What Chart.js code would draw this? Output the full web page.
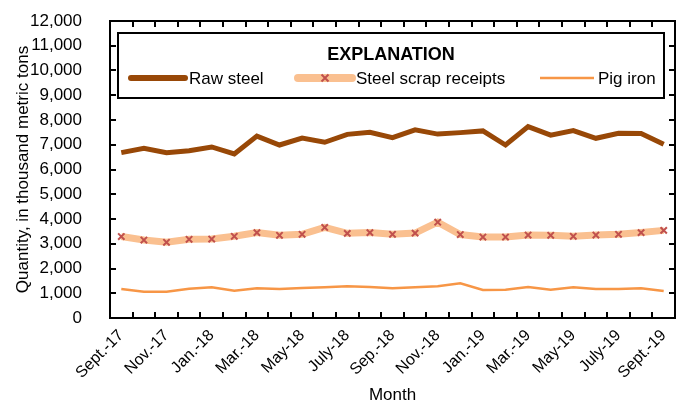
<!DOCTYPE html>
<html>
<head>
<meta charset="utf-8">
<script src="https://cdn.jsdelivr.net/npm/chart.js@4"></script>
<style>
  html, body { margin: 0; padding: 0; background: #fff; }
  #wrap { width: 676px; height: 406px; }
</style>
</head>
<body>
<div id="wrap"><canvas id="steel-chart" width="676" height="406"></canvas></div>
<script>
// months
const months = [
  'Sept.-17', 'Oct.-17', 'Nov.-17', 'Dec.-17', 'Jan.-18', 'Feb.-18', 'Mar.-18',
  'Apr.-18', 'May-18', 'June-18', 'July-18', 'Aug.-18', 'Sep.-18', 'Oct.-18',
  'Nov.-18', 'Dec.-18', 'Jan.-19', 'Feb.-19', 'Mar.-19', 'Apr.-19', 'May-19',
  'June-19', 'July-19', 'Aug.-19', 'Sept.-19',
];

// thousand metric tons
const rawSteel = [
  6680, 6860, 6680, 6760, 6910, 6630, 7350, 6990, 7270, 7100, 7420, 7500, 7290,
  7600, 7430, 7490, 7560, 6990, 7730, 7390, 7570, 7260, 7460, 7450, 7020,
];
const scrapReceipts = [
  3290, 3150, 3060, 3180, 3190, 3300, 3450, 3340, 3380, 3660, 3420, 3450, 3380,
  3430, 3870, 3370, 3270, 3270, 3350, 3340, 3300, 3350, 3380, 3450, 3540,
];
const pigIron = [
  1170, 1060, 1060, 1180, 1240, 1100, 1200, 1170, 1210, 1240, 1280, 1250, 1200,
  1240, 1280, 1400, 1130, 1140, 1250, 1140, 1240, 1170, 1170, 1200, 1090,
];

const yMin = 0;
const yMax = 12000;
const yStep = 1000;

const FONT = '"Liberation Sans", Arial, sans-serif';

// black box round the plot, with inward ticks on all four sides
const framePlugin = {
  id: 'frame',
  afterDatasetsDraw(chart) {
    const { ctx, chartArea: a, scales } = chart;
    const x = scales.x;
    const y = scales.y;
    const half = (x.getPixelForTick(1) - x.getPixelForTick(0)) / 2;
    const tl = 6;
    ctx.save();
    ctx.strokeStyle = '#000';
    ctx.lineWidth = 2;
    ctx.strokeRect(a.left, a.top, a.right - a.left, a.bottom - a.top);
    ctx.beginPath();
    for (let i = 1; i < months.length; i++) {
      const px = Math.round(x.getPixelForTick(i) - half);
      ctx.moveTo(px, a.bottom);
      ctx.lineTo(px, a.bottom - tl);
      ctx.moveTo(px, a.top);
      ctx.lineTo(px, a.top + tl);
    }
    y.ticks.forEach((t, i) => {
      const py = Math.round(y.getPixelForTick(i));
      ctx.moveTo(a.left, py);
      ctx.lineTo(a.left + tl, py);
      ctx.moveTo(a.right, py);
      ctx.lineTo(a.right - tl, py);
    });
    ctx.stroke();
    ctx.restore();
  },
};

// boxed "EXPLANATION" legend inside the plot
const explanationPlugin = {
  id: 'explanation',
  afterDraw(chart) {
    const { ctx, chartArea: a } = chart;
    const bx = a.left + 8;
    const by = a.top + 12;
    const bw = a.right - a.left - 19;
    const bh = 65;
    ctx.save();
    ctx.fillStyle = '#fff';
    ctx.fillRect(bx, by, bw, bh);
    ctx.strokeStyle = '#000';
    ctx.lineWidth = 2;
    ctx.strokeRect(bx, by, bw, bh);

    ctx.fillStyle = '#000';
    ctx.font = 'bold 18px ' + FONT;
    ctx.textAlign = 'center';
    ctx.textBaseline = 'middle';
    ctx.fillText('EXPLANATION', bx + bw / 2, by + 22);

    const rowY = by + 45;
    const starts = [13, 180, 422];
    ctx.font = '17px ' + FONT;
    ctx.textAlign = 'left';
    chart.data.datasets.forEach((ds, i) => {
      const sx = bx + starts[i];
      ctx.strokeStyle = ds.borderColor;
      ctx.lineWidth = ds.legendWidth;
      ctx.lineCap = ds.legendWidth > 3 ? 'round' : 'butt';
      ctx.beginPath();
      ctx.moveTo(sx, rowY);
      ctx.lineTo(sx + 54, rowY);
      ctx.stroke();
      if (ds.pointStyle === 'crossRot') {
        ctx.strokeStyle = ds.pointBorderColor;
        ctx.lineWidth = 2;
        ctx.lineCap = 'butt';
        const cx = sx + 27;
        const r = 3.5;
        ctx.beginPath();
        ctx.moveTo(cx - r, rowY - r);
        ctx.lineTo(cx + r, rowY + r);
        ctx.moveTo(cx + r, rowY - r);
        ctx.lineTo(cx - r, rowY + r);
        ctx.stroke();
      }
      ctx.fillStyle = '#000';
      ctx.fillText(ds.label, sx + 58, rowY + 1);
    });
    ctx.restore();
  },
};

const steelChart = new Chart(document.getElementById('steel-chart'), {
  type: 'line',
  data: {
    labels: months,
    datasets: [
      {
        label: 'Raw steel',
        data: rawSteel,
        borderColor: '#984807',
        borderWidth: 5,
        legendWidth: 6,
        pointRadius: 0,
        tension: 0,
      },
      {
        label: 'Steel scrap receipts',
        data: scrapReceipts,
        borderColor: '#FAC090',
        borderWidth: 7,
        legendWidth: 8,
        pointStyle: 'crossRot',
        pointRadius: 4.5,
        pointBorderColor: '#C0504D',
        pointBorderWidth: 2,
        pointBackgroundColor: '#C0504D',
        tension: 0,
      },
      {
        label: 'Pig iron',
        data: pigIron,
        borderColor: '#F79646',
        borderWidth: 2.5,
        legendWidth: 2.5,
        pointRadius: 0,
        tension: 0,
      },
    ],
  },
  options: {
    responsive: false,
    animation: false,
    events: [],
    layout: {
      autoPadding: false,
      padding: { left: 0, right: 1, top: 21, bottom: 0 },
    },
    plugins: {
      legend: { display: false },
      tooltip: { enabled: false },
    },
    scales: {
      x: {
        type: 'category',
        offset: true,
        grid: { display: false },
        border: { display: false },
        afterFit(scale) {
          scale.height = 88;
          scale.paddingLeft = 0;
          scale.paddingRight = 0;
        },
        ticks: {
          autoSkip: false,
          maxRotation: 45,
          minRotation: 45,
          padding: 0,
          color: '#000',
          font: { family: FONT, size: 16 },
          callback(value, index) {
            return index % 2 === 0 ? months[index] : '';
          },
        },
        title: {
          display: true,
          text: 'Month',
          color: '#000',
          font: { family: FONT, size: 17 },
          padding: { top: 0, bottom: 0 },
        },
      },
      y: {
        min: yMin,
        max: yMax,
        grid: { display: false },
        border: { display: false },
        afterFit(scale) {
          scale.width = 110;
          scale.paddingTop = 0;
          scale.paddingBottom = 0;
        },
        ticks: {
          stepSize: yStep,
          autoSkip: false,
          padding: 20,
          color: '#000',
          font: { family: FONT, size: 17 },
          callback(value) {
            return value.toLocaleString('en-US');
          },
        },
        title: {
          display: true,
          text: 'Quantity, in thousand metric tons',
          color: '#000',
          font: { family: FONT, size: 17 },
          padding: { top: 13, bottom: 0 },
        },
      },
    },
  },
  plugins: [framePlugin, explanationPlugin],
});
</script>
</body>
</html>
